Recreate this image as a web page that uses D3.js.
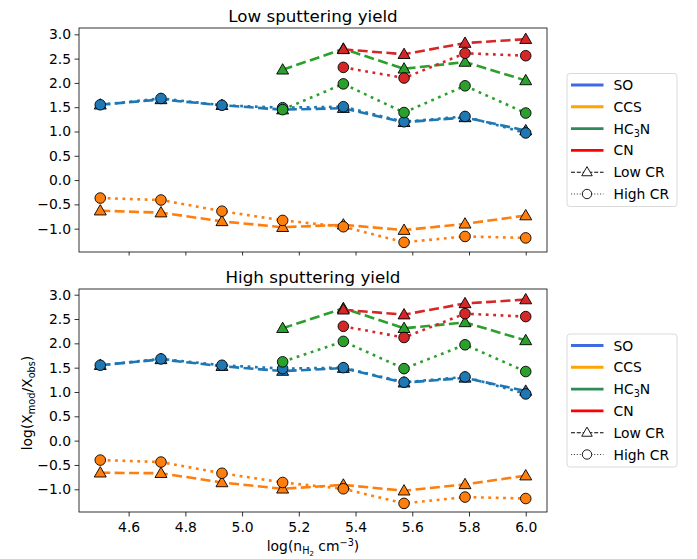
<!DOCTYPE html>
<html><head><meta charset="utf-8">
<script src="https://cdn.jsdelivr.net/npm/d3@7"></script>
<style>
body{margin:0;background:#fff;}
text{font-family:"DejaVu Sans",sans-serif;}
</style></head>
<body><svg id="c" width="697" height="559"></svg>
<script>
// ---- data ----
const xVals = [4.5, 4.714, 4.929, 5.143, 5.357, 5.571, 5.786, 6.0];
const species = ["SO", "CCS", "HC3N", "CN"];
const xTicks = [4.6, 4.8, 5.0, 5.2, 5.4, 5.6, 5.8, 6.0];
const yTicks = [3.0, 2.5, 2.0, 1.5, 1.0, 0.5, 0.0, -0.5, -1.0];
const panelTitles = ["Low sputtering yield", "High sputtering yield"];

// Low sputtering yield
const lowSY_SO_lowCR   = [1.55, 1.66, 1.54, 1.45, 1.48, 1.19, 1.29, 1.02];
const lowSY_SO_highCR  = [1.55, 1.68, 1.54, 1.49, 1.51, 1.20, 1.31, 0.97];
const lowSY_CCS_lowCR  = [-0.63, -0.67, -0.85, -0.97, -0.92, -1.03, -0.90, -0.73];
const lowSY_CCS_highCR = [-0.37, -0.41, -0.64, -0.83, -0.96, -1.28, -1.16, -1.19];
const lowSY_HC3N_lowCR  = [null, null, null, 2.27, 2.70, 2.29, 2.43, 2.05];
const lowSY_HC3N_highCR = [null, null, null, 1.45, 1.98, 1.39, 1.94, 1.38];
const lowSY_CN_lowCR  = [null, null, null, null, 2.69, 2.59, 2.82, 2.90];
const lowSY_CN_highCR = [null, null, null, null, 2.32, 2.10, 2.61, 2.56];

// High sputtering yield
const highSY_SO_lowCR   = [1.55, 1.67, 1.53, 1.43, 1.49, 1.19, 1.29, 1.02];
const highSY_SO_highCR  = [1.55, 1.68, 1.55, 1.48, 1.50, 1.20, 1.31, 0.96];
const highSY_CCS_lowCR  = [-0.66, -0.67, -0.86, -0.99, -0.91, -1.03, -0.90, -0.72];
const highSY_CCS_highCR = [-0.40, -0.44, -0.67, -0.86, -0.99, -1.29, -1.16, -1.19];
const highSY_HC3N_lowCR  = [null, null, null, 2.31, 2.72, 2.31, 2.43, 2.06];
const highSY_HC3N_highCR = [null, null, null, 1.62, 2.04, 1.48, 1.97, 1.42];
const highSY_CN_lowCR  = [null, null, null, null, 2.69, 2.59, 2.82, 2.90];
const highSY_CN_highCR = [null, null, null, null, 2.35, 2.12, 2.61, 2.55];

// ---- styles ----
const markColor = {SO:"#1f77b4", CCS:"#ff7f0e", HC3N:"#2ca02c", CN:"#d62728"};
const legColor = {SO:"#4169e1", CCS:"#ffa500", HC3N:"#2e8b57", CN:"#ff0000"};

const panels = [
  {title: panelTitles[0], y0: 28, y1: 252, dom: [-1.48, 3.13], showX: false,
   series: {SO:[lowSY_SO_lowCR, lowSY_SO_highCR], CCS:[lowSY_CCS_lowCR, lowSY_CCS_highCR],
            HC3N:[lowSY_HC3N_lowCR, lowSY_HC3N_highCR], CN:[lowSY_CN_lowCR, lowSY_CN_highCR]}},
  {title: panelTitles[1], y0: 289, y1: 512, dom: [-1.467, 3.117], showX: true,
   series: {SO:[highSY_SO_lowCR, highSY_SO_highCR], CCS:[highSY_CCS_lowCR, highSY_CCS_highCR],
            HC3N:[highSY_HC3N_lowCR, highSY_HC3N_highCR], CN:[highSY_CN_lowCR, highSY_CN_highCR]}}
];

const svg = d3.select("#c");
const X0 = 79, X1 = 547;
const x = d3.scaleLinear().domain([4.425, 6.075]).range([X0, X1]);
const tri = d3.symbol().type(d3.symbolTriangle).size(62);
const fs = 13.9;

panels.forEach(p => {
  const y = d3.scaleLinear().domain(p.dom).range([p.y1, p.y0]);
  const g = svg.append("g");

  // axes
  const ax = g.append("g").attr("transform", `translate(0,${p.y1})`)
    .call(d3.axisBottom(x).tickValues(xTicks).tickSize(p.showX ? 4.5 : 3.5).tickPadding(3.5)
      .tickFormat(p.showX ? d3.format(".1f") : ""));
  const ay = g.append("g").attr("transform", `translate(${X0},0)`)
    .call(d3.axisLeft(y).tickValues(yTicks).tickSize(4.5).tickPadding(3.5)
      .tickFormat(d => d3.format(".1f")(d).replace("-", "\u2212")));
  [ax, ay].forEach(a => {
    a.select(".domain").remove();
    a.selectAll("line").attr("stroke", "#000").attr("stroke-width", 0.8);
    a.selectAll("text").attr("font-size", fs).attr("fill", "#000")
      .attr("font-family", "DejaVu Sans");
  });
  ax.selectAll("text").attr("dy", "0.85em");

  // series
  const line = d3.line().defined(d => d.v !== null).x(d => x(d.x)).y(d => y(d.v));
  species.forEach(sp => {
    p.series[sp].forEach((vals, k) => {
      const pts = vals.map((v, i) => ({x: xVals[i], v}));
      g.append("path").datum(pts).attr("d", line).attr("fill", "none")
        .attr("stroke", markColor[sp]).attr("stroke-width", 2.6)
        .attr("stroke-dasharray", k === 0 ? "10,4.4" : "2.8,4.6");
      const def = pts.filter(d => d.v !== null);
      if (k === 0) {
        g.selectAll(null).data(def).enter().append("path")
          .attr("d", tri).attr("transform", d => `translate(${x(d.x)},${y(d.v) + 0.8})`)
          .attr("fill", markColor[sp]).attr("stroke", "#000").attr("stroke-width", 0.9);
      } else {
        g.selectAll(null).data(def).enter().append("circle")
          .attr("cx", d => x(d.x)).attr("cy", d => y(d.v)).attr("r", 5.3)
          .attr("fill", markColor[sp]).attr("stroke", "#000").attr("stroke-width", 0.9);
      }
    });
  });

  // frame
  g.append("rect").attr("x", X0).attr("y", p.y0).attr("width", X1 - X0).attr("height", p.y1 - p.y0)
    .attr("fill", "none").attr("stroke", "#000").attr("stroke-width", 0.8);

  // title
  g.append("text").attr("x", (X0 + X1) / 2).attr("y", p.y0 - 6).attr("text-anchor", "middle")
    .attr("font-size", 16.7).attr("fill", "#000").text(p.title);

  // legend
  const lx = 567, ly = (p.y0 + p.y1) / 2 - 66.5;
  const lg = g.append("g");
  lg.append("rect").attr("x", lx).attr("y", ly).attr("width", 110).attr("height", 133)
    .attr("rx", 3).attr("fill", "#fff").attr("fill-opacity", 0.8)
    .attr("stroke", "#d6d6d6").attr("stroke-width", 0.9);
  const items = [
    {lab: "SO", c: legColor.SO}, {lab: "CCS", c: legColor.CCS},
    {lab: "HC3N", c: legColor.HC3N}, {lab: "CN", c: legColor.CN},
    {lab: "Low CR", kind: "low"}, {lab: "High CR", kind: "high"}
  ];
  items.forEach((it, i) => {
    const cy = ly + 11.5 + i * 21.8;
    if (!it.kind) {
      lg.append("line").attr("x1", lx + 4).attr("x2", lx + 36.5).attr("y1", cy).attr("y2", cy)
        .attr("stroke", it.c).attr("stroke-width", 2.9);
    } else if (it.kind === "low") {
      lg.append("line").attr("x1", lx + 4).attr("x2", lx + 36.5).attr("y1", cy).attr("y2", cy)
        .attr("stroke", "#000").attr("stroke-width", 1.1).attr("stroke-dasharray", "4,1.8");
      lg.append("path").attr("d", d3.symbol().type(d3.symbolTriangle).size(48))
        .attr("transform", `translate(${lx + 20},${cy + 0.5})`)
        .attr("fill", "#fff").attr("stroke", "#000").attr("stroke-width", 0.9);
    } else {
      lg.append("line").attr("x1", lx + 4).attr("x2", lx + 36.5).attr("y1", cy).attr("y2", cy)
        .attr("stroke", "#444").attr("stroke-width", 1.1).attr("stroke-dasharray", "1.1,1.8");
      lg.append("circle").attr("cx", lx + 20).attr("cy", cy).attr("r", 4.7)
        .attr("fill", "#fff").attr("stroke", "#000").attr("stroke-width", 0.9);
    }
    const t = lg.append("text").attr("x", lx + 46.5).attr("y", cy).attr("dy", "0.36em")
      .attr("font-size", fs).attr("fill", "#000");
    if (it.lab === "HC3N") {
      t.append("tspan").text("HC");
      t.append("tspan").attr("font-size", fs * 0.7).attr("dy", 3).text("3");
      t.append("tspan").attr("dy", -3).text("N");
    } else t.text(it.lab);
  });
});

// axis labels
const xl = svg.append("text").attr("x", (X0 + X1) / 2).attr("y", 551).attr("text-anchor", "middle")
  .attr("font-size", fs).attr("fill", "#000");
xl.append("tspan").text("log(n");
xl.append("tspan").attr("font-size", fs * 0.7).attr("dy", 3).text("H");
xl.append("tspan").attr("font-size", fs * 0.5).attr("dy", 2).text("2");
xl.append("tspan").attr("dy", -5).text(" cm");
xl.append("tspan").attr("font-size", fs * 0.7).attr("dy", -5).text("\u22123");
xl.append("tspan").attr("dy", 5).text(")");

const yl = svg.append("text").attr("transform", "translate(32,403) rotate(-90)")
  .attr("text-anchor", "middle").attr("font-size", fs).attr("fill", "#000");
yl.append("tspan").text("log(X");
yl.append("tspan").attr("font-size", fs * 0.7).attr("dy", 3).text("mod");
yl.append("tspan").attr("dy", -3).text("/X");
yl.append("tspan").attr("font-size", fs * 0.7).attr("dy", 3).text("obs");
yl.append("tspan").attr("dy", -3).text(")");
</script>
</body></html>
